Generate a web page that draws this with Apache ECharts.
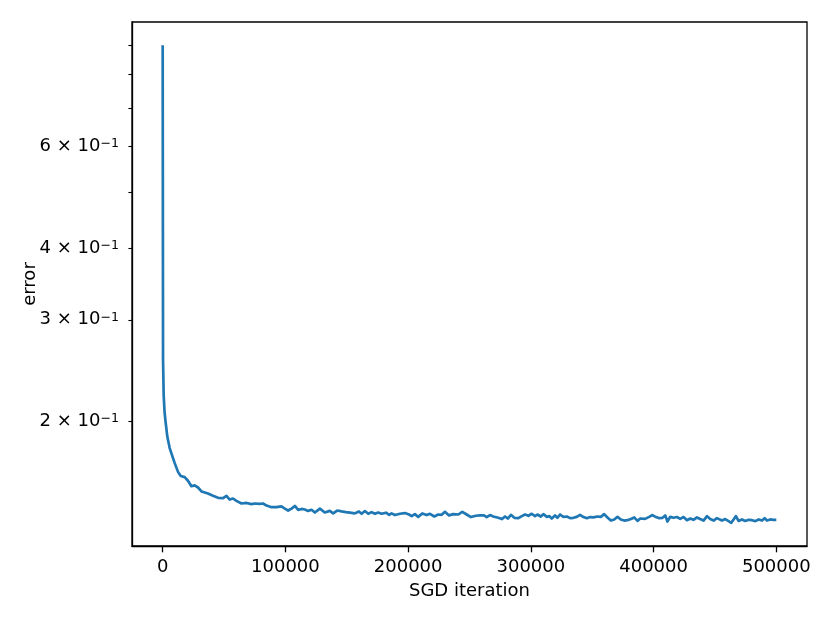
<!DOCTYPE html>
<html><head><meta charset="utf-8">
<script src="https://cdn.jsdelivr.net/npm/echarts@6.0.0/dist/echarts.min.js"></script>
<style>html,body{margin:0;padding:0;background:#fff}#c{width:830px;height:622px}</style>
</head><body><div id="c"></div>
<script>
const iterations = [0,300,800,1500,2200,3800,5700,7600,9800,12500,14700,17900,20600,23400,26100,28800,31600,34300,36900,41000,45100,49200,52000,54600,57300,60100,64200,68300,72300,75000,
79100,81800,84600,88700,92700,96800,99500,102200,105000,107700,110400,113100,115800,118500,121300,124000,128100,132100,136200,138900,142200,145800,149300,152500,156600,159900,162100,164800,167500,170200,172900,175600,178400,181900,184600,
186500,189200,193300,197400,200700,202900,205500,208200,211500,215100,217800,221300,224600,227300,230000,233300,236800,240900,244100,247700,251200,255100,258600,261800,264000,266700,269400,273500,276300,279000,281200,283800,286500,
289800,292600,295300,298000,300700,303400,305300,308100,310200,313000,315100,317000,319700,321600,323800,326500,329300,332000,334700,337400,340100,342800,345600,348300,351000,354200,357000,359700,362400,365200,367900,370600,373300,376000,378700,381500,384200,386900,389100,
390500,393100,396400,399100,401900,404600,407300,409500,411300,413500,416200,419000,421700,424400,427200,429900,432500,435300,438000,440700,443500,446200,448900,451600,
452900,455700,458400,461100,463300,465200,467100,469200,472000,474700,477400,480200,482900,485600,488300,490500,492400,495100,497800,500000];
const errors = [0.900,0.255,0.222,0.208,0.2008,0.1878,0.1795,0.1745,0.1690,0.1632,0.1605,0.1598,0.1575,0.1541,0.1546,0.1533,0.1509,0.1503,0.1497,0.1483,0.1471,0.1469,0.1483,0.1461,0.1467,0.1453,0.1438,0.1441,0.1434,0.1438,
0.1436,0.1438,0.1426,0.1417,0.1417,0.1421,0.1409,0.1398,0.1409,0.1424,0.1402,0.1407,0.1404,0.1396,0.1402,0.1387,0.1409,0.1387,0.1396,0.1382,0.1398,0.1393,0.1389,0.1386,0.1382,0.1393,0.1380,0.1395,0.1380,0.1389,0.1380,0.1387,0.1380,0.1386,0.1374,
0.1382,0.1373,0.1380,0.1384,0.1376,0.1367,0.1378,0.1363,0.1382,0.1373,0.1380,0.1365,0.1376,0.1374,0.1391,0.1371,0.1378,0.1376,0.1391,0.1376,0.1362,0.1369,0.1371,0.1371,0.1362,0.1373,0.1365,0.1358,0.1351,0.1365,0.1354,0.1374,0.1358,
0.1356,0.1367,0.1376,0.1369,0.1380,0.1367,0.1376,0.1365,0.1378,0.1363,0.1367,0.1354,0.1371,0.1358,0.1376,0.1363,0.1365,0.1356,0.1358,0.1363,0.1374,0.1362,0.1356,0.1362,0.1360,0.1365,0.1363,0.1378,0.1360,0.1343,0.1349,0.1363,0.1349,0.1343,0.1345,0.1352,0.1360,0.1341,0.1354,
0.1358,0.1352,0.1363,0.1373,0.1362,0.1356,0.1358,0.1371,0.1338,0.1363,0.1358,0.1362,0.1352,0.1362,0.1345,0.1354,0.1347,0.1360,0.1351,0.1343,0.1367,0.1351,0.1343,0.1356,
0.1349,0.1343,0.1351,0.1340,0.1331,0.1349,0.1367,0.1341,0.1349,0.1341,0.1347,0.1345,0.1340,0.1349,0.1343,0.1356,0.1343,0.1349,0.1347,0.1347];
const xTickValues = [0,100000,200000,300000,400000,500000];
const yLabelValues = [0.2,0.3,0.4,0.6];
const yTickValues = [0.2,0.3,0.4,0.5,0.6,0.7,0.8,0.9];

const font = 'DejaVu Sans';
const chart = echarts.init(document.getElementById('c'), null, {renderer:'canvas'});
const data = iterations.map((it,i)=>[it, errors[i]]);
chart.setOption({
  animation:false,
  backgroundColor:'#fff',
  grid:{left:132,right:23,top:22,bottom:76,show:true,borderColor:'#000',borderWidth:1.3,backgroundColor:'transparent'},
  xAxis:{type:'value',min:-25000,max:525000,
    axisLine:{show:true,onZero:false,lineStyle:{color:'#000',width:1.3}},
    axisTick:{show:true,length:6.3,lineStyle:{color:'#000',width:1.3},customValues:xTickValues},
    axisLabel:{customValues:xTickValues,color:'#000',fontFamily:font,fontSize:18,margin:12,formatter:v=>String(v)},
    splitLine:{show:false},
    name:'SGD iteration',nameLocation:'middle',nameGap:36,
    nameTextStyle:{color:'#000',fontFamily:font,fontSize:18}},
  yAxis:{type:'log',logBase:10,min:0.1213,max:0.9879,
    axisLine:{show:true,onZero:false,lineStyle:{color:'#000',width:1.3}},
    axisTick:{show:true,length:3.6,lineStyle:{color:'#000',width:1.1},customValues:yTickValues},
    axisLabel:{customValues:yLabelValues,color:'#000',margin:13,
      formatter:v=>'{m|'+Math.round(v*10)+' × 10}{s|−1}',
      rich:{m:{fontFamily:font,fontSize:18,lineHeight:18,color:'#000'},
            s:{fontFamily:font,fontSize:12.6,lineHeight:9,verticalAlign:'top',color:'#000'}}},
    splitLine:{show:false},minorTick:{show:false},
    name:'error',nameLocation:'middle',nameGap:93,nameMoveOverlap:false,
    nameTextStyle:{color:'#000',fontFamily:font,fontSize:18}},
  series:[{type:'line',data:data,showSymbol:false,symbol:'none',
    lineStyle:{color:'#1f77b4',width:2.7,join:'round',cap:'butt'},itemStyle:{color:'#1f77b4'},silent:true}]
});
</script></body></html>
